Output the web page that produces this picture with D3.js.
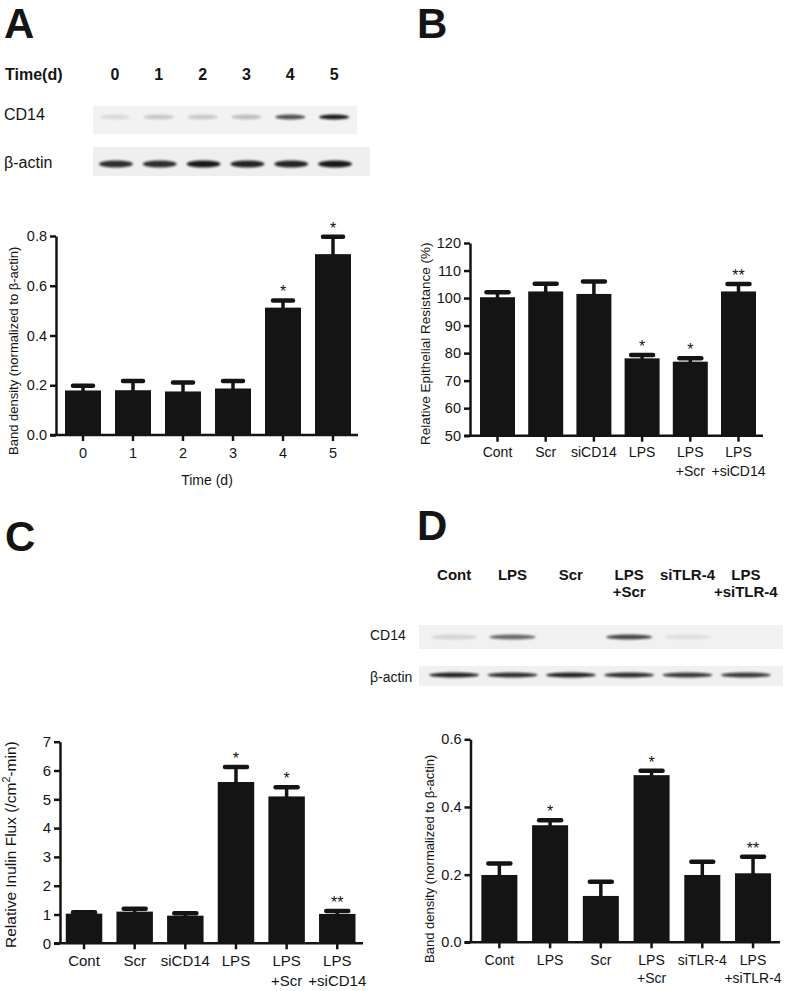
<!DOCTYPE html>
<html><head><meta charset="utf-8">
<script src="https://cdn.jsdelivr.net/npm/d3@7"></script>
<style>
html,body{margin:0;padding:0;background:#fff;}
svg{display:block;}
</style>
</head><body><svg id="fig" width="791" height="991"></svg>
<script>
// ---------------- DATA ----------------
const timeDays = ["0","1","2","3","4","5"];
const bandDensityA = [0.179, 0.180, 0.175, 0.187, 0.512, 0.727];
const bandDensityAErr = [0.019, 0.037, 0.036, 0.030, 0.029, 0.070];
const starsA = ["", "", "", "", "*", "*"];
const ticksA = [0, 0.2, 0.4, 0.6, 0.8];
const blotA_CD14 = [0.10, 0.18, 0.18, 0.22, 0.70, 0.95];
const blotA_actin = [0.85, 0.85, 0.95, 0.90, 0.90, 0.95];

const groupsBC = ["Cont", "Scr", "siCD14", "LPS", "LPS\n+Scr", "LPS\n+siCD14"];
const resistanceB = [100.3, 102.4, 101.5, 78.1, 76.9, 102.4];
const resistanceBErr = [1.8, 2.8, 4.5, 1.2, 1.2, 2.7];
const starsB = ["", "", "", "*", "*", "**"];
const ticksB = [50, 60, 70, 80, 90, 100, 110, 120];

const fluxC = [1.03, 1.10, 0.96, 5.60, 5.10, 1.02];
const fluxCErr = [0.05, 0.10, 0.08, 0.52, 0.32, 0.10];
const starsC = ["", "", "", "*", "*", "**"];
const ticksC = [0, 1, 2, 3, 4, 5, 6, 7];

const groupsD = ["Cont", "LPS", "Scr", "LPS\n+Scr", "siTLR-4", "LPS\n+siTLR-4"];
const bandDensityD = [0.199, 0.346, 0.137, 0.494, 0.199, 0.204];
const bandDensityDErr = [0.034, 0.015, 0.042, 0.013, 0.039, 0.049];
const starsD = ["", "*", "", "*", "", "**"];
const ticksD = [0, 0.2, 0.4, 0.6];
const blotD_CD14 = [0.12, 0.60, 0.0, 0.75, 0.08, 0.0];
const blotD_actin = [0.90, 0.85, 0.90, 0.85, 0.80, 0.80];

// ---------------- DRAWING ----------------
const FONT = "'Liberation Sans', Arial, Helvetica, sans-serif";
const INK = "#141414";
const svg = d3.select("#fig").attr("font-family", FONT);
svg.append("rect").attr("width", 791).attr("height", 991).attr("fill", "#fff");
const defs = svg.append("defs");
defs.append("filter").attr("id", "blur").attr("x", "-50%").attr("y", "-100%").attr("width", "200%").attr("height", "300%")
  .append("feGaussianBlur").attr("stdDeviation", 1.3);

function txt(g, x, y, s, opt = {}) {
  return g.append("text").attr("x", x).attr("y", y)
    .attr("font-size", opt.fs || 14).attr("font-weight", opt.bold ? "bold" : "normal")
    .attr("text-anchor", opt.anchor || "start").attr("fill", INK).text(s);
}

// panel letters
txt(svg, 4, 38, "A", {fs: 42, bold: true});
txt(svg, 417, 38, "B", {fs: 42, bold: true});
txt(svg, 5, 551, "C", {fs: 42, bold: true});
txt(svg, 417, 540, "D", {fs: 42, bold: true});

function multiLine(g, x, y, label, fs, gap, bold) {
  const t = g.append("text").attr("x", x).attr("y", y).attr("text-anchor", "middle")
    .attr("font-size", fs).attr("font-weight", bold ? "bold" : "normal").attr("fill", INK);
  label.split("\n").forEach((l, i) => t.append("tspan").attr("x", x).attr("dy", i ? gap : 0).text(l));
}

function blotStrip(o) {
  const g = svg.append("g");
  g.append("rect").attr("x", o.x0).attr("y", o.y0).attr("width", o.x1 - o.x0).attr("height", o.y1 - o.y0).attr("fill", o.bg);
  o.lanes.domain().forEach((c, i) => {
    const v = o.vals[i];
    if (v <= 0) return;
    const cx = o.lanes(c) + o.lanes.bandwidth() / 2 + (o.shift ? o.shift : 0);
    g.append("ellipse").attr("cx", cx).attr("cy", o.cy).attr("rx", o.bw / 2).attr("ry", o.bh / 2)
      .attr("fill", "#111").attr("opacity", v).attr("filter", "url(#blur)");
  });
}

function barPanel(o) {
  const g = svg.append("g");
  const x = d3.scaleBand().domain(o.cats).range(o.xr).paddingInner(o.pad).paddingOuter(o.pad / 2);
  const y = d3.scaleLinear().domain(o.yd).range(o.yr);
  const base = o.yr[0];
  g.selectAll("rect.bar").data(o.cats).join("rect").attr("class", "bar")
    .attr("x", d => x(d)).attr("width", x.bandwidth())
    .attr("y", (d, i) => y(o.vals[i])).attr("height", (d, i) => base - y(o.vals[i]))
    .attr("fill", INK);
  o.cats.forEach((c, i) => {
    const cx = x(c) + x.bandwidth() / 2;
    const top = y(o.vals[i] + o.errs[i]);
    g.append("line").attr("x1", cx).attr("x2", cx).attr("y1", y(o.vals[i]) + 1).attr("y2", top)
      .attr("stroke", INK).attr("stroke-width", 3.5);
    g.append("line").attr("x1", cx - o.capW / 2).attr("x2", cx + o.capW / 2).attr("y1", top).attr("y2", top)
      .attr("stroke", INK).attr("stroke-width", 4.5).attr("stroke-linecap", "round");
    if (o.stars[i]) txt(g, cx, top - 3, o.stars[i], {fs: 16, anchor: "middle"});
  });
  // y axis
  const ya = g.append("g").attr("transform", `translate(${o.ax0},0)`)
    .call(d3.axisLeft(y).tickValues(o.ticks).tickFormat(o.fmt).tickSize(6).tickSizeOuter(0).tickPadding(3));
  ya.attr("font-family", FONT).attr("font-size", o.tickFs);
  ya.select(".domain").attr("stroke", INK).attr("stroke-width", 2.5);
  ya.selectAll(".tick line").attr("stroke", INK).attr("stroke-width", 2.5);
  ya.selectAll(".tick text").attr("fill", INK);
  // x axis
  const xa = g.append("g").attr("transform", `translate(0,${base})`)
    .call(d3.axisBottom(x).tickSize(6).tickSizeOuter(0).tickFormat(""));
  xa.select(".domain").remove();
  xa.selectAll(".tick line").attr("stroke", INK).attr("stroke-width", 2.5);
  g.append("line").attr("x1", o.ax0 - 6).attr("x2", o.ax1).attr("y1", base).attr("y2", base)
    .attr("stroke", INK).attr("stroke-width", 2.5);
  o.cats.forEach(c => multiLine(g, x(c) + x.bandwidth() / 2, base + o.lab1, c, o.xFs, o.gap, false));
  // y title
  const t = g.append("text").attr("transform", `translate(${o.tx},${o.tyEnd}) rotate(-90)`)
    .attr("dy", "0.35em").attr("text-anchor", "start").attr("font-size", o.tFs).attr("fill", INK);
  o.title(t);
  if (o.xTitle) txt(g, (o.ax0 + o.ax1) / 2, o.xTitle.y, o.xTitle.s, {fs: 14, anchor: "middle"});
  return x;
}

// ---------- Panel A blot ----------
const lanesA = d3.scaleBand().domain(timeDays).range([93, 356]);
txt(svg, 5, 80, "Time(d)", {fs: 16, bold: true});
timeDays.forEach(d => txt(svg, lanesA(d) + lanesA.bandwidth() / 2, 80, d, {fs: 16, bold: true, anchor: "middle"}));
txt(svg, 4, 120, "CD14", {fs: 16});
txt(svg, 4, 168, "β-actin", {fs: 16});
blotStrip({x0: 93, x1: 357, y0: 106, y1: 134, bg: "#f2f2f2", lanes: lanesA, vals: blotA_CD14, cy: 117, bw: 30, bh: 5});
blotStrip({x0: 93, x1: 370, y0: 147, y1: 176, bg: "#efefef", lanes: lanesA, vals: blotA_actin, cy: 164, bw: 34, bh: 7, shift: 1});

// ---------- Panel A chart ----------
barPanel({
  cats: timeDays, vals: bandDensityA, errs: bandDensityAErr, stars: starsA,
  xr: [58, 358], pad: 0.28, ax0: 56, ax1: 358, yd: [0, 0.8], yr: [435, 236],
  ticks: ticksA, fmt: d3.format(".1f"), tickFs: 14.5, xFs: 14.5, lab1: 23, gap: 19, capW: 20,
  tx: 13, tyEnd: 455, tFs: 13,
  title: t => t.text("Band density (normalized to β-actin)"),
  xTitle: {y: 485, s: "Time (d)"}
});

// ---------- Panel B chart ----------
barPanel({
  cats: groupsBC, vals: resistanceB, errs: resistanceBErr, stars: starsB,
  xr: [473.4, 762.6], pad: 0.274, ax0: 470, ax1: 763, yd: [50, 120], yr: [435.7, 243],
  ticks: ticksB, fmt: d3.format("d"), tickFs: 14.5, xFs: 14, lab1: 21.5, gap: 18.5, capW: 22,
  tx: 425, tyEnd: 445, tFs: 13.5,
  title: t => t.text("Relative Epithelial Resistance (%)")
});

// ---------- Panel C chart ----------
barPanel({
  cats: groupsBC, vals: fluxC, errs: fluxCErr, stars: starsC,
  xr: [58.7, 362.6], pad: 0.28, ax0: 60, ax1: 363, yd: [0, 7], yr: [943.3, 741.7],
  ticks: ticksC, fmt: d3.format("d"), tickFs: 15, xFs: 15, lab1: 23, gap: 20, capW: 22,
  tx: 11, tyEnd: 948, tFs: 15.5,
  title: t => {
    t.append("tspan").text("Relative Inulin Flux (/cm");
    t.append("tspan").attr("baseline-shift", "super").attr("font-size", "0.7em").text("2");
    t.append("tspan").text("-min)");
  }
});

// ---------- Panel D blot ----------
const lanesD = d3.scaleBand().domain(groupsD).range([425, 775]);
groupsD.forEach(d => multiLine(svg, lanesD(d) + lanesD.bandwidth() / 2, 580, d, 15, 17, true));
txt(svg, 370, 640, "CD14", {fs: 14});
txt(svg, 370, 682, "β-actin", {fs: 14});
blotStrip({x0: 419, x1: 783, y0: 625, y1: 649, bg: "#f1f1f1", lanes: lanesD, vals: blotD_CD14, cy: 637, bw: 46, bh: 5});
blotStrip({x0: 419, x1: 783, y0: 666, y1: 686, bg: "#f0f0f0", lanes: lanesD, vals: blotD_actin, cy: 675, bw: 50, bh: 5});

// ---------- Panel D chart ----------
barPanel({
  cats: groupsD, vals: bandDensityD, errs: bandDensityDErr, stars: starsD,
  xr: [474, 778.4], pad: 0.29, ax0: 470.5, ax1: 780, yd: [0, 0.6], yr: [942.3, 739.3],
  ticks: ticksD, fmt: d3.format(".1f"), tickFs: 14.5, xFs: 14, lab1: 23, gap: 18, capW: 22,
  tx: 429, tyEnd: 963, tFs: 13,
  title: t => t.text("Band density (normalized to β-actin)")
});
</script>
</body></html>
